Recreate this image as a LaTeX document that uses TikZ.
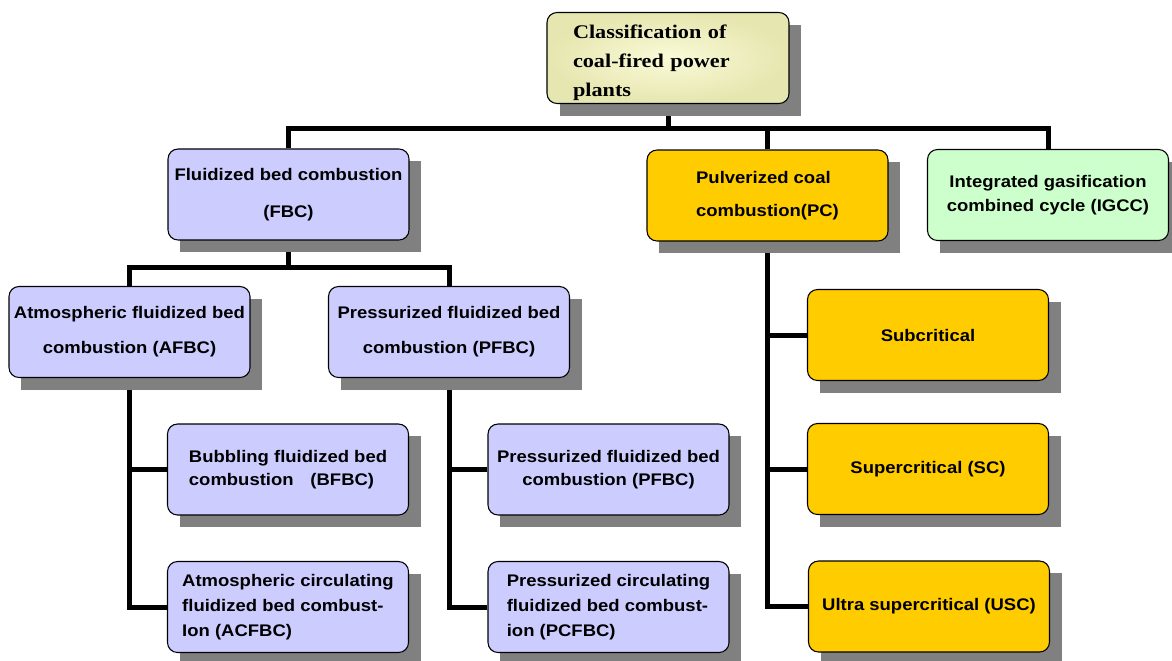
\documentclass[tikz,border=0pt]{standalone}
\usepackage{fontspec}
\setmainfont{Liberation Serif}[FakeStretch=1.15]
\setsansfont{Liberation Sans}[FakeStretch=1.1]
\usetikzlibrary{calc}
\pgfdeclarelayer{background}
\pgfsetlayers{background,main}
\definecolor{lavender}{HTML}{CCCCFF}
\definecolor{amber}{HTML}{FFCC00}
\definecolor{mint}{HTML}{CCFFCC}
\definecolor{shadowgray}{HTML}{808080}
\definecolor{paleyellow}{HTML}{FAFAD8}
\definecolor{khaki}{HTML}{E6E6B0}
\tikzstyle{plantbox}=[draw=black,line width=0.8pt,rounded corners=7.5pt,inner sep=0pt,minimum width=180.75pt,minimum height=68.25pt,font=\sffamily\bfseries\fontsize{12.6}{17.5}\selectfont,align=center,fill=lavender]
\tikzstyle{bus}=[line width=3.75pt]
\newcommand{\plantnode}[5][]{% Syntax: [node options] {name} {x} {y} {text}
	\fill[shadowgray] (#3-108.5,#4-33.5) rectangle (#3+132.5,#4+57.5);
	\node[plantbox,#1] (#2) at (#3,#4) {#5};
}

\begin{document}
\begin{tikzpicture}[x=0.75pt,y=-0.75pt]
	\useasboundingbox (0,0) rectangle (1172,661);
	\plantnode[shade,inner color=paleyellow,outer color=khaki,font=\rmfamily\bfseries\fontsize{14.5}{21.7}\selectfont,align=left,text width=142.5pt,inner xsep=19.5pt]{top}{668}{58}{\rule{0pt}{17.5pt}Classification of\\coal-fired power\\plants}
	% first level
	\plantnode{fbc}{288.5}{194.5}{Fluidized bed combustion\\[10pt](FBC)}
	\plantnode[fill=amber,align=left]{pc}{767.5}{195.5}{Pulverized coal\\[7.25pt]combustion(PC)}
	\plantnode[fill=mint]{igcc}{1048}{195}{Integrated gasification\\combined cycle (IGCC)}
	% fluidized bed branch
	\plantnode{afbc}{129.5}{332}{Atmospheric fluidized bed\\[8.75pt]combustion (AFBC)}
	\plantnode{pfbc}{449}{332}{Pressurized fluidized bed\\[8.75pt]combustion (PFBC)}
	\plantnode[align=left]{bfbc}{288}{469.5}{Bubbling fluidized bed\\combustion\hspace{1em}(BFBC)}
	\plantnode[align=left]{acfbc}{288}{607}{Atmospheric circulating\\[1pt]fluidized bed combust-\\[1pt]Ion (ACFBC)}
	\plantnode{pfbcb}{608.5}{469.5}{Pressurized fluidized bed\\combustion (PFBC)}
	\plantnode[align=left]{pcfbc}{608.5}{607}{Pressurized circulating\\[1pt]fluidized bed combust-\\[1pt]ion (PCFBC)}
	% pulverized coal branch
	\plantnode[fill=amber]{sub}{928}{335}{Subcritical}
	\plantnode[fill=amber]{sc}{928}{469}{Supercritical (SC)}
	\plantnode[fill=amber]{usc}{929}{606.5}{Ultra supercritical (USC)}
	\begin{pgfonlayer}{background}
	\coordinate (topbus) at ($(top.south)+(0,24)$);
	\coordinate (fbcbus) at ($(fbc.south)+(0,27)$);
	\draw[bus] (top.south) -- (topbus);
	\draw[bus] (fbc.north) |- (topbus) -| (igcc.north);
	\draw[bus] (pc.north) -- (pc.north |- topbus);
	\draw[bus] (fbc.south) -- (fbcbus);
	\draw[bus] (afbc.north) |- (fbcbus) -| (pfbc.north);
	\draw[bus] (afbc.south) |- (acfbc.west);
	\draw[bus] (bfbc.west) -- (bfbc.west -| afbc.south);
	\draw[bus] (pfbc.south) |- (pcfbc.west);
	\draw[bus] (pfbcb.west) -- (pfbcb.west -| pfbc.south);
	\draw[bus] (pc.south) |- (usc.west);
	\draw[bus] (sub.west) -- (sub.west -| pc.south);
	\draw[bus] (sc.west) -- (sc.west -| pc.south);
	\end{pgfonlayer}
\end{tikzpicture}
\end{document}
